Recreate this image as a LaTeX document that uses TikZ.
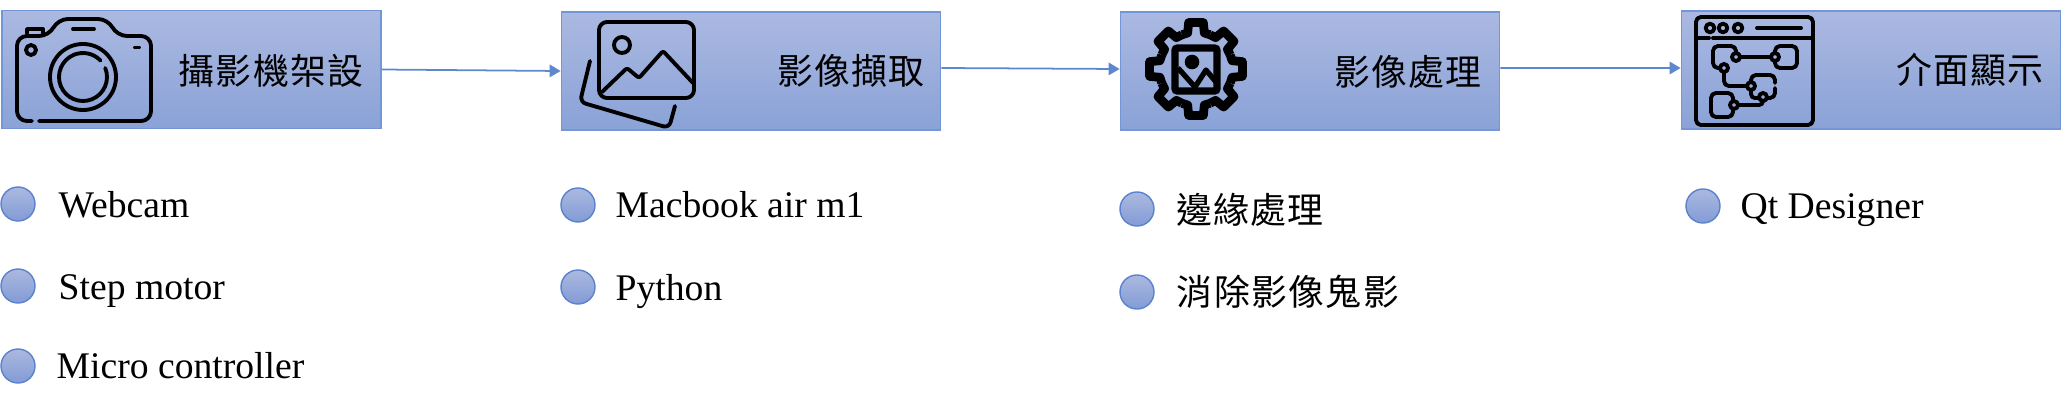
\documentclass[tikz,border=0pt]{standalone}
\usepackage{fontspec}
\setmainfont{Liberation Serif}
\newfontfamily\cjk[LetterSpace=4]{Noto Sans CJK TC}
\usetikzlibrary{arrows.meta,calc}
\definecolor{boxtop}{HTML}{ABB9E1}
\definecolor{boxbot}{HTML}{8AA2D7}
\definecolor{boxedge}{HTML}{7296D6}
\definecolor{dottop}{HTML}{ABB9E0}
\definecolor{dotbot}{HTML}{829BD5}
\definecolor{dotedge}{HTML}{5B82CF}
\definecolor{flowblue}{HTML}{5E87CE}
\tikzset{
    stagebox/.style={draw=boxedge,line width=0.45pt,top color=boxtop,bottom color=boxbot,minimum width=3.79cm,minimum height=1.18cm,inner sep=0pt},
    stagetext/.style={inner sep=0pt,font=\cjk\fontsize{10.2}{12}\selectfont},
    itemdot/.style={circle,draw=dotedge,line width=0.4pt,top color=dottop,bottom color=dotbot,minimum size=0.34cm,inner sep=0pt},
    itemtext/.style={anchor=base west,inner sep=0pt,font=\fontsize{10.7}{12}\selectfont},
    itemcjk/.style={inner sep=0pt,font=\cjk\fontsize{10.2}{12}\selectfont},
    flow/.style={draw=flowblue,line width=0.5pt,-{Stealth[length=0.11cm,width=0.125cm,inset=0pt,fill=flowblue]}},
    iconline/.style={black,line width=1.1pt,line cap=round,line join=round},
    gearline/.style={black,line width=2.5pt,line join=round}
}
\begin{document}
\begin{tikzpicture}[x=0.01cm,y=-0.01cm]
    \useasboundingbox (0,0) rectangle (2068,412);
    \node[stagebox] (Cam) at (191.5,69.5) {};
    \node[stagebox] (Cap) at (751,71) {};
    \node[stagebox] (Proc) at (1310,71) {};
    \node[stagebox] (Show) at (1871,70) {};
    \draw[flow] (Cam.east) -- (Cap.west);
    \draw[flow] ([yshift=0.3mm]Cap.east) -- ([yshift=0.2mm]Proc.west);
    \draw[flow] ([yshift=0.3mm]Proc.east) -- ([yshift=0.2mm]Show.west);
    \node[stagetext] (CamT) at (271,71) {攝影機架設};
    \node[stagetext] (CapT) at (851,71) {影像擷取};
    \node[stagetext] (ProcT) at (1408,72) {影像處理};
    \node[stagetext] (ShowT) at (1970,70) {介面顯示};
    \node[itemdot] (D1) at (18,204) {};
    \node[itemdot] (D2) at (18,286) {};
    \node[itemdot] (D3) at (18,366) {};
    \node[itemdot] (D4) at (578,205) {};
    \node[itemdot] (D5) at (578,287) {};
    \node[itemdot] (D6) at (1137,209) {};
    \node[itemdot] (D7) at (1137,292) {};
    \node[itemdot] (D8) at (1703,206) {};
    \node[itemtext] (I1) at (58,217) {Webcam};
    \node[itemtext] (I2) at (58,299) {Step motor};
    \node[itemtext] (I3) at (56,378) {Micro controller};
    \node[itemtext] (I4) at (615,217) {Macbook air m1};
    \node[itemtext] (I5) at (615,300) {Python};
    \node[itemcjk] (I6) at (1250,210) {邊緣處理};
    \node[itemcjk] (I7) at (1288,292) {消除影像鬼影};
    \node[itemtext] (I8) at (1740,218) {Qt Designer};
    \draw[iconline,rounded corners=2.8pt] (32,121) -- (17,121) -- (17,36) -- (49,36) -- (58,19) -- (108,19) -- (117,36) -- (151,36) -- (151,121) -- (39,121);
    \draw[iconline] (27,33) -- (27,29) -- (43,29) -- (43,33);
    \draw[iconline] (73,29) -- (94,29);
    \draw[iconline] (135,47.5) -- (139,47.5);
    \draw[iconline] (31,50) circle[radius=5];
    \draw[iconline] (83,77) circle[radius=33];
    \draw[iconline] (83,77) ++(-22:24) arc[start angle=-22,end angle=317,radius=24];
    \draw[iconline,rounded corners=2.3pt] (599,22) rectangle (694,98);
    \draw[iconline] (622,45) circle[radius=8];
    \draw[iconline,rounded corners=0.6pt] (602,92) -- (627,68) -- (639,78) -- (663,51) -- (693,83);
    \draw[iconline,rounded corners=1.7pt] (590,61) -- (580,102) -- (669,128) -- (675,106);
    \begin{scope}[shift={(1196,69)}]
        \foreach \a in {0,45,...,315}
            \draw[gearline] (\a-22.5:37) -- (\a-13:37) -- (\a-9:47) -- (\a+9:47) -- (\a+13:37) -- (\a+22.5:37);
    \end{scope}
    \draw[black,line width=2pt,rounded corners=0.6pt] (1175,48) rectangle (1217,91);
    \fill[black] (1192,62) circle[radius=7.3];
    \draw[black,line width=1.5pt,line join=round] (1178,68) -- (1195,87) -- (1206,70) -- (1216,82);
    \draw[iconline,rounded corners=1.4pt] (1696,17) rectangle (1813,125);
    \draw[iconline] (1698,38) -- (1709,38);
    \draw[iconline] (1713,38) -- (1812,38);
    \foreach \x in {1710,1723,1738}
        \draw[iconline] (\x,28) circle[radius=4.3];
    \draw[iconline] (1757,28) -- (1801,28);
    \draw[iconline,rounded corners=1.4pt] (1736,52) -- (1736,46) -- (1713,46) -- (1713,68) -- (1719,68);
    \draw[iconline,rounded corners=1.4pt] (1775,52) -- (1775,46) -- (1797,46) -- (1797,68) -- (1775,68) -- (1775,62);
    \draw[iconline,rounded corners=1.4pt] (1751,81) -- (1751,75) -- (1775,75) -- (1775,83);
    \draw[iconline,rounded corners=1.4pt] (1775,88) -- (1775,98) -- (1768,98);
    \draw[iconline,rounded corners=1.1pt] (1751,91) -- (1751,98) -- (1758,98);
    \draw[iconline,rounded corners=1.4pt] (1733,100) -- (1733,93) -- (1711,93) -- (1711,117) -- (1733,117) -- (1733,110);
    \foreach \x/\y in {1736/57,1775/57,1724/68,1751/86,1763/97,1734/105}
        \draw[iconline] (\x,\y) circle[radius=4];
    \draw[iconline] (1740,57) -- (1771,57);
    \draw[iconline,rounded corners=1.4pt] (1724,72) -- (1724,86) -- (1747,86);
    \draw[iconline,rounded corners=1.1pt] (1738,105) -- (1763,105) -- (1763,101);
\end{tikzpicture}
\end{document}
